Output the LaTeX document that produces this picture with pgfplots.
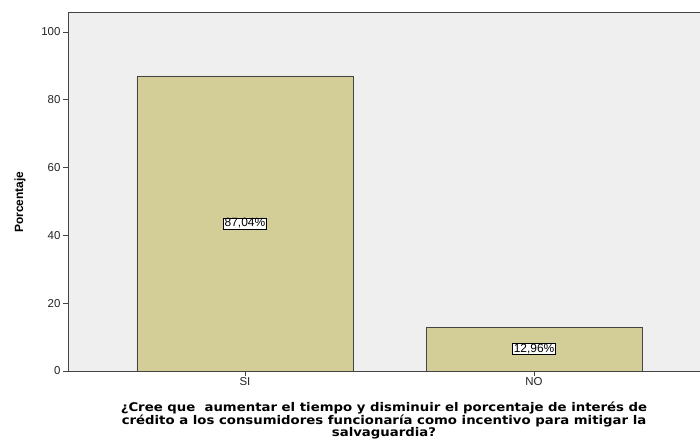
\documentclass[border=0pt]{standalone}
\usepackage{fontspec}
\setmainfont{Liberation Sans}
\newfontfamily\dejavu{DejaVu Sans}[FakeStretch=1.11]
\usepackage{pgfplots}
\pgfplotsset{compat=1.18}
\definecolor{bgc}{HTML}{EFEFEF}
\definecolor{barc}{HTML}{D3CE98}
\definecolor{axc}{HTML}{444444}
\definecolor{txc}{HTML}{222222}
\begin{document}
\begin{tikzpicture}[x=1bp,y=1bp]
\path[use as bounding box] (0,0) rectangle (700,443);
\begin{axis}[
  at={(68bp,72bp)}, anchor=south west,
  scale only axis, width=632bp, height=359bp,
  xmin=-0.612, xmax=1.574, ymin=0, ymax=105.9,
  axis x line*=bottom, axis y line*=left,
  axis line style={axc, line width=0.9pt},
  axis background/.style={fill=bgc},
  ybar, bar width=0.747,
  xtick={0,1}, xticklabels={SI,NO},
  ytick={0,20,40,60,80,100},
  tick align=outside, major tick length=5bp,
  tick style={axc, line width=0.8pt},
  tick label style={font=\fontsize{11.5}{13}\selectfont, text=txc},
  /pgf/number format/assume math mode=true,
  yticklabel style={xshift=1bp},
  xticklabel style={yshift=2bp},
  ylabel={\bfseries Porcentaje},
  ylabel style={font=\fontsize{12}{13}\selectfont, at={(rel axis cs:0,0.47)}, anchor=center, yshift=48bp},
  xlabel={¿Cree que\ \ aumentar el tiempo y disminuir el porcentaje de interés de\\
    crédito a los consumidores funcionaría como incentivo para mitigar la\\
    salvaguardia?},
  xlabel style={font=\dejavu\bfseries\fontsize{12}{10.5}\selectfont, align=center, at={(axis cs:0.481,0)}, anchor=north, yshift=-27bp, text=black},
  point meta=explicit symbolic,
  nodes near coords,
  visualization depends on={y \as \rawy},
  every node near coord/.append style={anchor=center,
    shift={(axis direction cs:0,-\rawy/2)},
    fill=white, draw=black, line width=0.6pt, inner xsep=1pt, inner ysep=0.6pt,
    font=\fontsize{12}{13}\selectfont, text=black},
  clip=false,
]
\addplot[fill=barc, draw=axc, line width=0.7pt] coordinates {(0,87.04) [87,04\%] (1,12.96) [12,96\%]};
\draw[axc, line width=0.9pt] (rel axis cs:0,1) -- (rel axis cs:1,1);
\end{axis}
\end{tikzpicture}
\end{document}
